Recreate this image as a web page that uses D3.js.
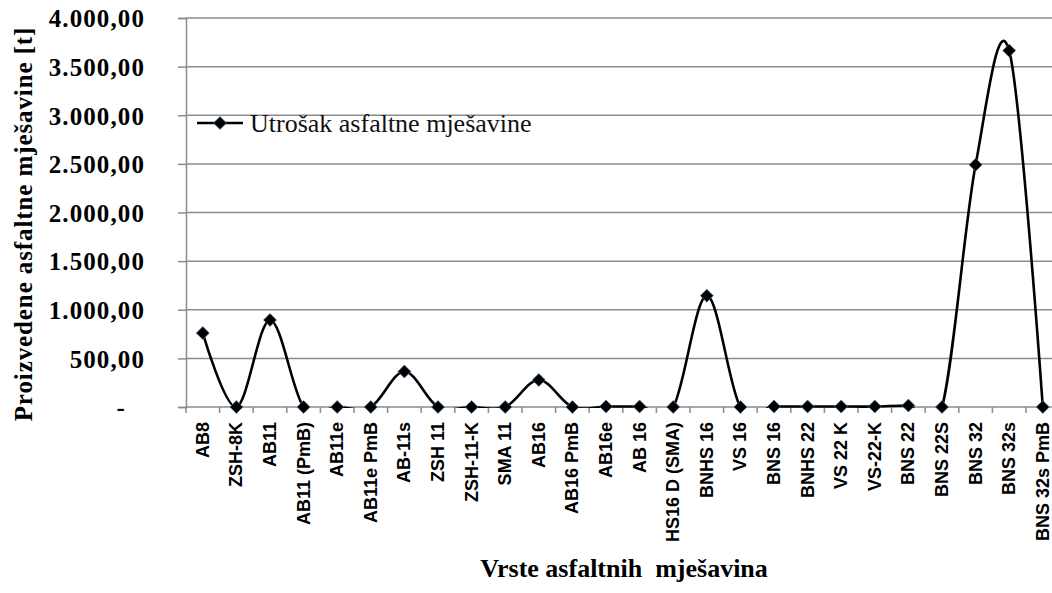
<!DOCTYPE html>
<html>
<head>
<meta charset="utf-8">
<script src="https://cdn.jsdelivr.net/npm/d3@7"></script>
<style>
  html, body { margin: 0; padding: 0; background: #fff; }
  svg { display: block; }
</style>
</head>
<body>
<svg id="chart" width="1052" height="593"></svg>
<script>
// Asphalt mix types and produced quantity (t)
const categories = [
  "AB8", "ZSH-8K", "AB11", "AB11 (PmB)", "AB11e", "AB11e PmB", "AB-11s",
  "ZSH 11", "ZSH-11-K", "SMA 11", "AB16", "AB16 PmB", "AB16e", "AB 16",
  "HS16 D (SMA)", "BNHS 16", "VS 16", "BNS 16", "BNHS 22", "VS 22 K",
  "VS-22-K", "BNS 22", "BNS 22S", "BNS 32", "BNS 32s", "BNS 32s PmB"
];
const values = [
  760, 0, 895, 0, 0, 0, 365,
  0, 0, 0, 278, 0, 5, 5,
  0, 1145, 0, 5, 5, 5,
  5, 15, 0, 2490, 3665, 0
];
const yTicks = [0, 500, 1000, 1500, 2000, 2500, 3000, 3500, 4000];
const seriesName = "Utrošak asfaltne mješavine";
const xTitle = "Vrste asfaltnih  mješavina";
const yTitle = "Proizvedene asfaltne mješavine [t]";

const svg = d3.select("#chart");
const plot = { left: 186, top: 18, bottom: 407, step: 33.6 };
const plotRight = plot.left + plot.step * categories.length;

const x = d3.scalePoint().domain(categories)
  .range([plot.left, plotRight]).padding(0.5);
const y = d3.scaleLinear().domain([0, 4000]).range([plot.bottom, plot.top]);

const fmt = v => v === 0 ? "-" :
  d3.format(",.2f")(v).replace(/,/g, "#").replace(".", ",").replace(/#/g, ".");

const gridColor = "#8c8c8c";

// Plot-area clip for the series line
svg.append("defs").append("clipPath").attr("id", "plot-clip")
  .append("rect")
  .attr("x", plot.left).attr("y", 0)
  .attr("width", 1052 - plot.left).attr("height", plot.bottom + 1);

// Horizontal gridlines
svg.append("g").selectAll("line").data(yTicks).join("line")
  .attr("x1", plot.left).attr("x2", 1052)
  .attr("y1", d => y(d)).attr("y2", d => y(d))
  .attr("stroke", gridColor).attr("stroke-width", 1.5);

// Y axis
const yAxis = svg.append("g")
  .attr("transform", `translate(${plot.left},0)`)
  .call(d3.axisLeft(y).tickValues(yTicks).tickSize(8).tickPadding(0).tickFormat(fmt));
yAxis.select(".domain").attr("stroke", gridColor).attr("stroke-width", 1.5);
yAxis.selectAll(".tick line").attr("stroke", gridColor).attr("stroke-width", 1.5);
yAxis.selectAll(".tick text")
  .attr("x", d => d === 0 ? -60 : -41)
  .attr("dy", "0.35em")
  .attr("fill", "#000")
  .style("font-family", "'Liberation Serif', 'Times New Roman', serif")
  .style("font-weight", "bold")
  .style("font-size", "25px")
  .style("letter-spacing", "1.1px");

// X axis with ticks between categories
const boundaries = d3.range(categories.length + 1).map(i => plot.left + i * plot.step);
svg.append("g").selectAll("line").data(boundaries).join("line")
  .attr("x1", d => d).attr("x2", d => d)
  .attr("y1", plot.bottom).attr("y2", plot.bottom + 6)
  .attr("stroke", gridColor).attr("stroke-width", 1.5);

const xAxis = svg.append("g")
  .attr("transform", `translate(0,${plot.bottom})`)
  .call(d3.axisBottom(x).tickSize(0).tickPadding(0));
xAxis.select(".domain").remove();
xAxis.selectAll(".tick text")
  .attr("transform", "rotate(-90)")
  .attr("x", -15).attr("y", 0).attr("dy", "0.3em")
  .attr("text-anchor", "end")
  .attr("fill", "#000")
  .style("font-family", "'Liberation Sans', Arial, sans-serif")
  .style("font-weight", "bold")
  .style("font-size", "18px");

// Smoothed series line, clipped to the plot area
const line = d3.line()
  .x((d, i) => x(categories[i]))
  .y(d => y(d))
  .curve(d3.curveCatmullRom.alpha(0));

svg.append("path").datum(values)
  .attr("clip-path", "url(#plot-clip)")
  .attr("d", line)
  .attr("fill", "none")
  .attr("stroke", "#000")
  .attr("stroke-width", 2.6);

const diamond = d3.symbol(d3.symbolSquare, 85);
svg.append("g").selectAll("path").data(values).join("path")
  .attr("d", diamond)
  .attr("transform", (d, i) => `translate(${x(categories[i])},${y(d)}) rotate(45)`)
  .attr("fill", "#000")
  .attr("stroke", "#4f7bb0")
  .attr("stroke-width", 0.6);

// Legend
const legend = svg.append("g").attr("transform", "translate(197,123)");
legend.append("line").attr("x1", 0).attr("x2", 46).attr("y1", 0).attr("y2", 0)
  .attr("stroke", "#000").attr("stroke-width", 2.6);
legend.append("path").attr("d", diamond)
  .attr("transform", "translate(23,0) rotate(45)")
  .attr("fill", "#000").attr("stroke", "#4f7bb0").attr("stroke-width", 0.6);
legend.append("text").attr("x", 53).attr("y", 0).attr("dy", "0.33em")
  .text(seriesName)
  .style("font-family", "'Liberation Serif', 'Times New Roman', serif")
  .style("font-size", "26px")
  .attr("fill", "#111");

// Axis titles
svg.append("text")
  .attr("x", 624).attr("y", 577)
  .attr("text-anchor", "middle")
  .style("white-space", "pre")
  .style("font-family", "'Liberation Serif', 'Times New Roman', serif")
  .style("font-weight", "bold")
  .style("font-size", "26px")
  .text(xTitle);

svg.append("text")
  .attr("transform", "translate(32,224) rotate(-90)")
  .attr("text-anchor", "middle")
  .style("font-family", "'Liberation Serif', 'Times New Roman', serif")
  .style("font-weight", "bold")
  .style("font-size", "25px")
  .style("letter-spacing", "0.9px")
  .text(yTitle);
</script>
</body>
</html>
